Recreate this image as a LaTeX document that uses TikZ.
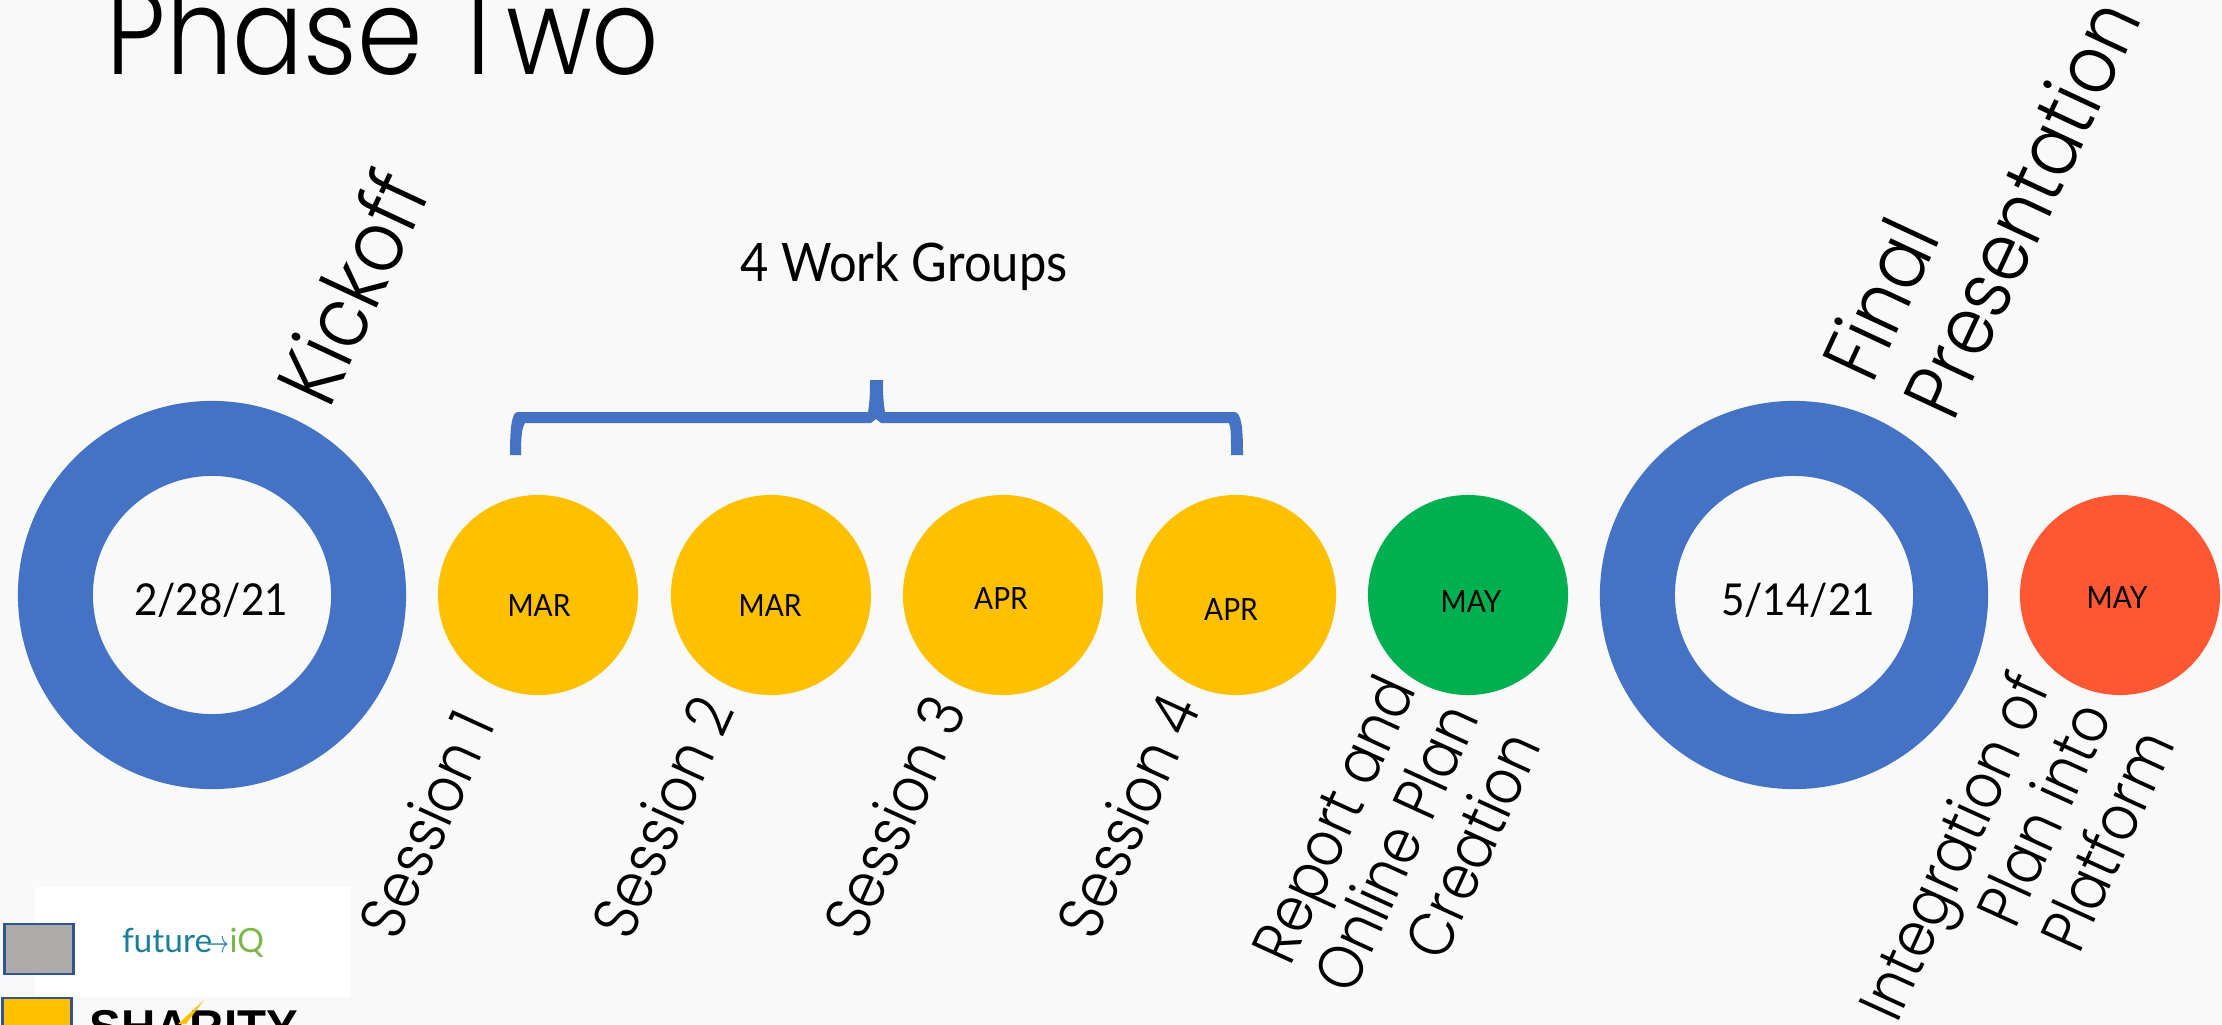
\documentclass[tikz,border=0pt]{standalone}
\usepackage{fontspec}
\setmainfont[FakeStretch=0.88]{Poppins Light}
\newfontfamily\regfont[FakeStretch=0.92]{Lato}
\newfontfamily\iqfont{Lato}
\newfontfamily\logofont{Liberation Sans}
\usepackage{xcolor}
\definecolor{paperbg}{HTML}{F9F9F9}
\definecolor{ringblue}{HTML}{4472C4}
\definecolor{dotyellow}{HTML}{FFC000}
\definecolor{dotgreen}{HTML}{00B050}
\definecolor{dotred}{HTML}{FF5733}
\definecolor{legendedge}{HTML}{2F5597}
\definecolor{legendgray}{HTML}{AEAAAA}
\definecolor{iqteal}{HTML}{1A7F9C}
\definecolor{iqgreen}{HTML}{7AB648}
\tikzset{
    x=0.01cm, y=-0.01cm,
    monthdot/.style={circle, minimum size=2cm, inner sep=0pt},
    monthtext/.style={inner sep=0pt, font=\regfont\fontsize{8.7pt}{9pt}\selectfont},
    ring/.style={circle, draw=ringblue, line width=0.75cm, fill=paperbg, minimum size=3.13cm, inner sep=0pt},
    datetext/.style={inner sep=0pt, font=\regfont\fontsize{12.5pt}{14pt}\selectfont},
    slanted/.style={rotate=65.5, inner sep=0pt, font=\fontsize{18pt}{19.5pt}\selectfont},
    biglabel/.style={rotate=65, inner sep=0pt, font=\fontsize{23.3pt}{25.5pt}\selectfont},
    legendbox/.style={draw=legendedge, line width=0.8pt, minimum width=0.69cm, minimum height=0.5cm, inner sep=0pt}
}
\begin{document}
\begin{tikzpicture}
        \clip (0, 0) rectangle (2222, 1024);
        \fill[paperbg] (0, 0) rectangle (2222, 1024);

        \node[anchor=base west, inner sep=0pt, font=\fontsize{34pt}{36pt}\selectfont] (title) at (106, 74) {Phase Two};

        \node[ring] (kickoff) at (212, 595) {};
        \node[ring] (final) at (1794, 595) {};
        \node[datetext] (kickdate) at (211, 600) {2/28/21};
        \node[datetext] (finaldate) at (1798, 600) {5/14/21};

        \node[monthdot, fill=dotyellow] (s1) at (538, 595) {};
        \node[monthdot, fill=dotyellow] (s2) at (771, 595) {};
        \node[monthdot, fill=dotyellow] (s3) at (1003, 595) {};
        \node[monthdot, fill=dotyellow] (s4) at (1236, 595) {};
        \node[monthdot, fill=dotgreen] (report) at (1468, 595) {};
        \node[monthdot, fill=dotred] (platform) at (2120, 595) {};

        \node[monthtext] (m1) at (539, 606) {MAR};
        \node[monthtext] (m2) at (770, 606) {MAR};
        \node[monthtext] (m3) at (1001, 599) {APR};
        \node[monthtext] (m4) at (1231, 610) {APR};
        \node[monthtext] (m5) at (1471, 602) {MAY};
        \node[monthtext] (m6) at (2117, 598) {MAY};

        % brace over the sessions
        \fill[ringblue] (510, 455) .. controls (510, 425) and (512, 412) .. (518, 412) -- (868, 412)
            .. controls (870, 400) and (870, 390) .. (870, 380) -- (883, 380)
            .. controls (883, 390) and (883, 400) .. (885, 412) -- (1234, 412)
            .. controls (1241, 412) and (1243, 425) .. (1243, 455) -- (1231, 455)
            .. controls (1231, 435) and (1231, 428) .. (1229, 423) -- (881, 423) -- (876, 419) -- (871, 423)
            -- (525, 423) .. controls (522, 428) and (521, 435) .. (521, 455) -- cycle;
        \node[font=\regfont\fontsize{15.1pt}{16pt}\selectfont] (groups) at (904, 266) {4 Work Groups};

        \node[biglabel, anchor=west, font=\fontsize{24.5pt}{26pt}\selectfont] (kicklabel) at (300, 397) {Kickoff};
        \node[biglabel, anchor=west, align=left] (finallabel) at (1885, 392) {Final\\Presentation};

        \node[slanted, anchor=west] (l1) at (376, 933) {Session 1};
        \node[slanted, anchor=west] (l2) at (609, 933) {Session 2};
        \node[slanted, anchor=west] (l3) at (841, 933) {Session 3};
        \node[slanted, anchor=west] (l4) at (1074, 933) {Session 4};
        \node[slanted, anchor=east, align=right] (l5) at (1459, 707) {Report and\\Online Plan\\Creation};
        \node[slanted, anchor=east, align=right] (l6) at (2092, 705) {Integration of\\Plan into\\Platform};

        \node[fill=white, minimum width=3.16cm, minimum height=1.1cm, inner sep=0pt] (iqbox) at (193, 942) {};
        \node[inner sep=0pt, font=\iqfont\fontsize{9.5pt}{12pt}\selectfont] (iq) at (193, 943) {\textcolor{iqteal}{future\kern-1.5pt\scalebox{.7}[1]{$\rightarrow$}}\textcolor{iqgreen}{iQ}};
        \node[legendbox, fill=legendgray] (graykey) at (39, 949) {};
        \node[legendbox, fill=dotyellow] (yellowkey) at (37, 1023) {};
        \node[anchor=base west, inner sep=0pt, font=\logofont\bfseries\fontsize{13.5pt}{14pt}\selectfont] (sharity) at (89, 1043) {SHARITY};
        \fill[dotyellow] (204, 1000) -- (178, 1024) -- (186, 1024) -- cycle;
    \end{tikzpicture}
\end{document}
